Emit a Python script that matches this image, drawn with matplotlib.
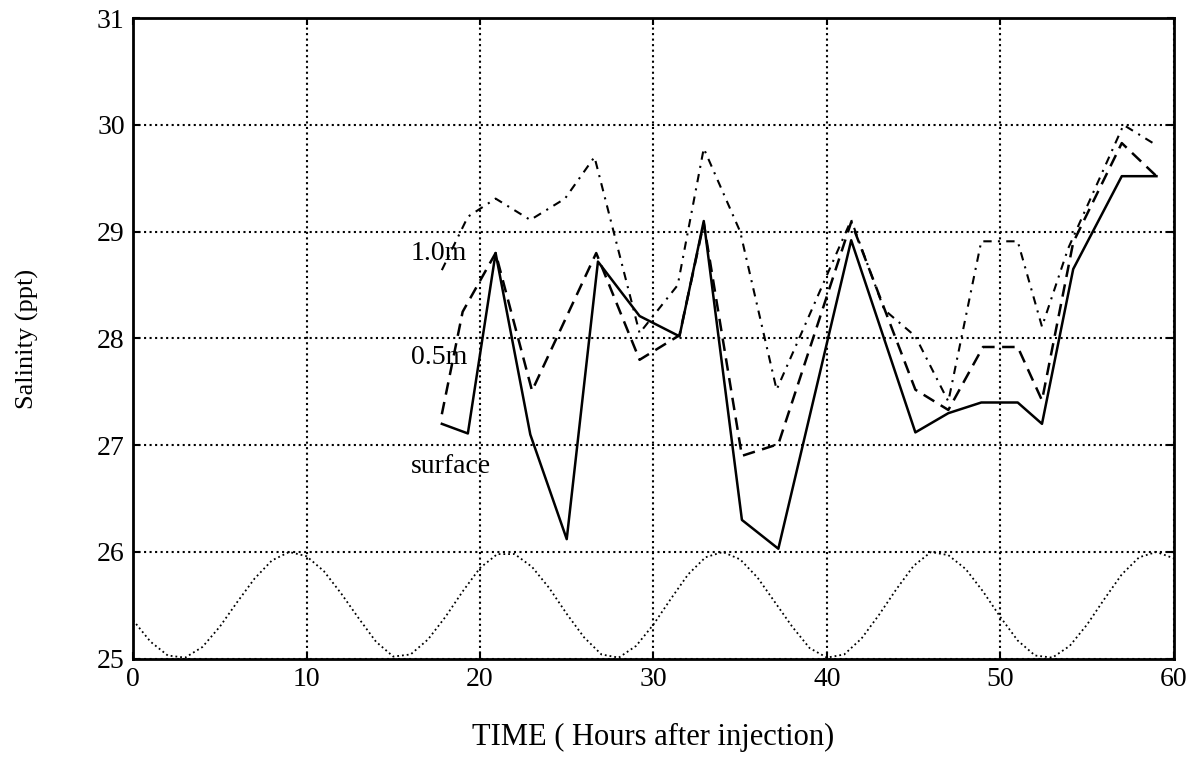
import matplotlib
matplotlib.use("Agg")
import matplotlib.pyplot as plt

plt.rcParams['font.family'] = ['Liberation Serif', 'DejaVu Serif']

# surface (solid)
t_surface = [17.8, 19.3, 20.9, 22.9, 25.0, 26.8, 29.2, 31.5, 32.9, 35.1, 37.2,
             41.4, 45.1, 47.0, 48.9, 51.0, 52.4, 54.2, 57.0, 59.0]
s_surface = [27.20, 27.11, 28.80, 27.10, 26.12, 28.72, 28.21, 28.02, 29.10, 26.30, 26.03,
             28.92, 27.12, 27.30, 27.40, 27.40, 27.20, 28.65, 29.52, 29.52]

# 0.5 m (dashed)
t_half = [17.8, 19.0, 20.9, 23.0, 26.7, 29.2, 31.5, 32.9, 35.1, 37.2, 41.4,
          45.1, 47.0, 49.0, 51.0, 52.4, 54.2, 57.0, 59.0]
s_half = [27.29, 28.25, 28.80, 27.51, 28.80, 27.80, 28.03, 29.08, 26.90, 27.01, 29.09,
          27.52, 27.33, 27.92, 27.92, 27.42, 28.90, 29.83, 29.52]

# 1.0 m (dash-dot)
t_one = [17.8, 19.3, 20.9, 22.9, 24.9, 26.6, 29.2, 31.4, 32.9, 35.0, 37.1,
         41.4, 43.3, 45.1, 47.0, 48.9, 51.0, 52.4, 53.9, 57.1, 59.0]
s_one = [28.64, 29.14, 29.31, 29.11, 29.31, 29.70, 28.05, 28.50, 29.78, 29.00, 27.52,
         29.11, 28.27, 28.02, 27.41, 28.91, 28.91, 28.11, 28.84, 30.00, 29.81]

# tide curve (dotted), read hourly
t_tide = list(range(0, 61))
s_tide = [25.36, 25.16, 25.03, 25.01, 25.11, 25.30, 25.53, 25.75, 25.92, 26.00,
          25.96, 25.82, 25.61, 25.38, 25.16, 25.02, 25.04, 25.18, 25.39, 25.63,
          25.85, 25.98, 25.98, 25.86, 25.66, 25.42, 25.20, 25.04, 25.01, 25.12,
          25.32, 25.56, 25.79, 25.95, 26.00, 25.93, 25.76, 25.53, 25.30, 25.10,
          25.01, 25.04, 25.19, 25.41, 25.65, 25.87, 26.00, 25.97, 25.84, 25.63,
          25.39, 25.17, 25.03, 25.01, 25.12, 25.32, 25.56, 25.79, 25.95, 26.00,
          25.94]

labels = ["1.0m", "0.5m", "surface"]
label_pos = [(16.0, 28.80), (16.0, 27.82), (16.0, 26.80)]

fig = plt.figure(figsize=(11.99, 7.58), dpi=100)
ax = fig.add_axes([0.111, 0.131, 0.868, 0.845])

ax.plot(t_tide, s_tide, color='black', linestyle=':', linewidth=1.3)
ax.plot(t_surface, s_surface, color='black', linestyle='-', linewidth=1.8)
ax.plot(t_half, s_half, color='black', linestyle=(0, (5, 3)), linewidth=1.8)
ax.plot(t_one, s_one, color='black', linestyle=(0, (4, 3, 1, 3)), linewidth=1.5)

for txt, (x, y) in zip(labels, label_pos):
    ax.text(x, y, txt, fontsize=20, ha='left', va='center')

ax.set_xlim(0, 60)
ax.set_ylim(25, 31)
ax.set_xticks(range(0, 61, 10))
ax.set_yticks(range(25, 32))
ax.grid(True, color='black', linestyle=':', linewidth=1.5)
ax.tick_params(direction='in', length=5, width=1.5, labelsize=20, pad=6,
               top=True, right=True)
for sp in ax.spines.values():
    sp.set_linewidth(2)

ax.set_xlabel("TIME ( Hours after injection)", fontsize=22, labelpad=22)
ax.set_ylabel("Salinity (ppt)", fontsize=19, labelpad=42)

fig.savefig("out.png", dpi=100)
